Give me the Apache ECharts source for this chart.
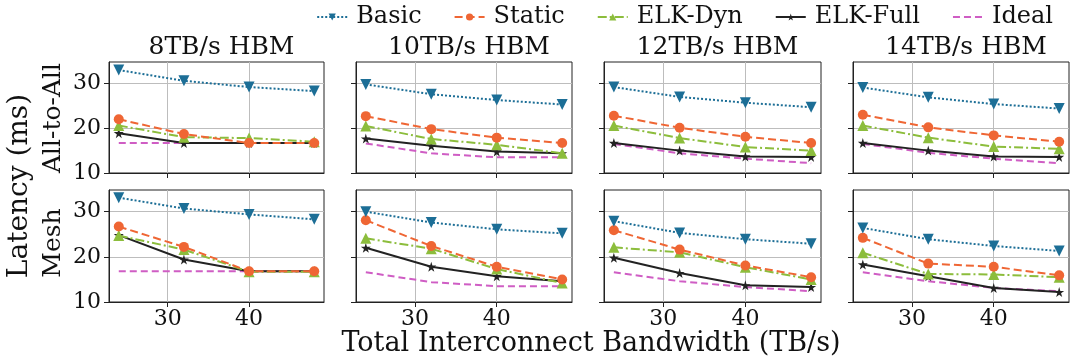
<!DOCTYPE html>
<html>
<head>
<meta charset="utf-8">
<script src="https://cdn.jsdelivr.net/npm/echarts@6/dist/echarts.min.js"></script>
<style>
	html,body{margin:0;padding:0;background:#fff}
	#chart{width:1080px;height:360px}
</style>
</head>
<body>
<div id="chart"></div>
<script>
	// bandwidth points (TB/s)
	var xValues = [24, 32, 40, 48];
	var hbmLabels = ['8TB/s HBM', '10TB/s HBM', '12TB/s HBM', '14TB/s HBM'];
	var rowLabels = ['All-to-All', 'Mesh'];
	var seriesNames = ['Basic', 'Static', 'ELK-Dyn', 'ELK-Full', 'Ideal'];
	var xTicks = [30, 40];
	var yTicks = [10, 20, 30];

	// All-to-All latency (ms), one row per HBM bandwidth
	var a2aBasic = [[33.0, 30.6, 29.2, 28.3], [29.8, 27.6, 26.3, 25.3], [29.2, 27.0, 25.7, 24.7], [29.1, 26.9, 25.4, 24.4]];
	var a2aStatic = [[22.0, 18.7, 16.7, 16.7], [22.7, 19.8, 17.9, 16.7], [22.8, 20.1, 18.1, 16.7], [23.0, 20.2, 18.4, 17.0]];
	var a2aDyn = [[20.6, 18.0, 17.8, 17.0], [20.5, 17.6, 16.3, 14.4], [20.6, 17.8, 15.8, 15.0], [20.6, 17.9, 15.9, 15.4]];
	var a2aFull = [[18.9, 16.7, 16.7, 16.7], [17.7, 16.1, 14.8, 14.4], [16.7, 15.0, 13.7, 13.6], [16.7, 15.0, 13.7, 13.6]];
	var a2aIdeal = [[16.7, 16.7, 16.7, 16.7], [16.6, 14.4, 13.5, 13.5], [16.5, 14.4, 13.2, 12.2], [16.5, 14.5, 13.2, 12.2]];

	// Mesh latency (ms)
	var meshBasic = [[33.1, 30.7, 29.4, 28.3], [30.0, 27.6, 26.1, 25.2], [27.9, 25.3, 23.9, 22.9], [26.4, 23.9, 22.4, 21.3]];
	var meshStatic = [[26.7, 22.2, 16.8, 16.8], [28.1, 22.4, 17.8, 15.0], [25.9, 21.6, 18.1, 15.5], [24.2, 18.5, 17.8, 15.9]];
	var meshDyn = [[24.7, 21.6, 16.7, 16.7], [24.1, 21.8, 17.3, 14.2], [22.1, 21.0, 17.7, 15.0], [20.9, 16.2, 16.1, 15.5]];
	var meshFull = [[24.8, 19.4, 16.8, 16.8], [22.0, 17.8, 15.7, 14.6], [19.8, 16.4, 13.7, 13.3], [18.3, 15.7, 13.1, 12.2]];
	var meshIdeal = [[16.8, 16.8, 16.8, 16.8], [16.6, 14.4, 13.5, 13.5], [16.6, 14.6, 13.3, 12.4], [16.6, 14.6, 13.1, 12.4]];

	var rows = [
		[a2aBasic, a2aStatic, a2aDyn, a2aFull, a2aIdeal],
		[meshBasic, meshStatic, meshDyn, meshFull, meshIdeal]
	];

	var starPath = 'path://M50,0 L61,35 L98,35 L68,57 L79,91 L50,70 L21,91 L32,57 L2,35 L39,35 Z';
	var styles = [
		{color: '#1c6e96', type: 'dotted', symbol: 'triangle', rotate: 180, size: 11},
		{color: '#ef6634', type: 'dashed', symbol: 'circle', rotate: 0, size: 10},
		{color: '#8cbd3c', type: [9, 3, 2, 3], symbol: 'triangle', rotate: 0, size: 11},
		{color: '#222222', type: 'solid', symbol: starPath, rotate: 0, size: 10},
		{color: '#cf5dc4', type: [7, 4], symbol: 'none', rotate: 0, size: 0}
	];

	var lefts = [109, 356, 604, 853];
	var widths = [215, 216, 217, 216];
	var tops = [62, 190];
	var heights = [111, 112];
	var serif = 'DejaVu Serif';

	var grids = [], xAxes = [], yAxes = [], series = [], titles = [];
	var idx = 0;
	for (var r = 0; r < 2; r++) {
		for (var c = 0; c < 4; c++) {
			grids.push({left: lefts[c], top: tops[r], width: widths[c], height: heights[r],
				show: true, borderColor: '#222', borderWidth: 1, containLabel: false});
			xAxes.push({
				type: 'value', gridIndex: idx, min: 22.8, max: 49.2,
				axisLine: {show: true, onZero: false, lineStyle: {color: '#222', width: 1}},
				axisTick: {show: true, inside: false, length: 5, customValues: xTicks, lineStyle: {color: '#222'}},
				axisLabel: {show: r == 1, customValues: xTicks, color: '#111', fontSize: 22,
					fontFamily: serif, margin: 6},
				splitLine: {show: true, lineStyle: {color: '#bdbdbd', width: 1}}
			});
			yAxes.push({
				type: 'value', gridIndex: idx, min: 10, max: 34.8,
				axisLine: {show: true, lineStyle: {color: '#222', width: 1}},
				axisTick: {show: true, inside: false, length: 5, customValues: yTicks, lineStyle: {color: '#222'}},
				axisLabel: {show: c == 0, customValues: yTicks, color: '#111', fontSize: 22,
					fontFamily: serif, margin: 8},
				splitLine: {show: true, lineStyle: {color: '#bdbdbd', width: 1}}
			});
			for (var s = 0; s < 5; s++) {
				var st = styles[s];
				series.push({
					name: seriesNames[s], type: 'line', xAxisIndex: idx, yAxisIndex: idx,
					data: xValues.map(function (x, i) { return [x, rows[r][s][c][i]]; }),
					symbol: st.symbol, symbolSize: st.size, symbolRotate: st.rotate, showSymbol: st.symbol != 'none',
					lineStyle: {color: st.color, type: st.type, width: 2},
					itemStyle: {color: st.color},
					z: 10 - s, animation: false
				});
			}
			idx++;
		}
	}
	for (var c = 0; c < 4; c++) {
		titles.push({text: hbmLabels[c], left: lefts[c] + widths[c] / 2, top: 30, textAlign: 'center',
			textStyle: {fontFamily: serif, fontSize: 25, fontWeight: 'normal', color: '#111'}});
	}

	var legendData = seriesNames.map(function (n) {
		return n == 'Ideal' ? {name: n, itemStyle: {opacity: 0}} : {name: n};
	});

	var myChart = echarts.init(document.getElementById('chart'), null, {renderer: 'canvas'});
	var option = {
		animation: false,
		backgroundColor: '#fff',
		title: titles,
		legend: {
			data: legendData, top: 0, right: 22, itemWidth: 30, itemHeight: 9, itemGap: 32,
			textStyle: {fontFamily: serif, fontSize: 24, color: '#111', padding: [0, 0, 0, 4]}
		},
		grid: grids,
		xAxis: xAxes,
		yAxis: yAxes,
		series: series,
		graphic: [
			{type: 'text', rotation: Math.PI / 2, x: 20, y: 186,
				style: {text: 'Latency (ms)', fontFamily: serif, fontSize: 28, fill: '#111', align: 'center', verticalAlign: 'middle'}},
			{type: 'text', rotation: Math.PI / 2, x: 53, y: 118,
				style: {text: rowLabels[0], fontFamily: serif, fontSize: 25, fill: '#111', align: 'center', verticalAlign: 'middle'}},
			{type: 'text', rotation: Math.PI / 2, x: 53, y: 243,
				style: {text: rowLabels[1], fontFamily: serif, fontSize: 25, fill: '#111', align: 'center', verticalAlign: 'middle'}},
			{type: 'text', x: 591, y: 344,
				style: {text: 'Total Interconnect Bandwidth (TB/s)', fontFamily: serif, fontSize: 27, fill: '#111', align: 'center', verticalAlign: 'middle'}}
		]
	};
	myChart.setOption(option);
</script>
</body>
</html>
